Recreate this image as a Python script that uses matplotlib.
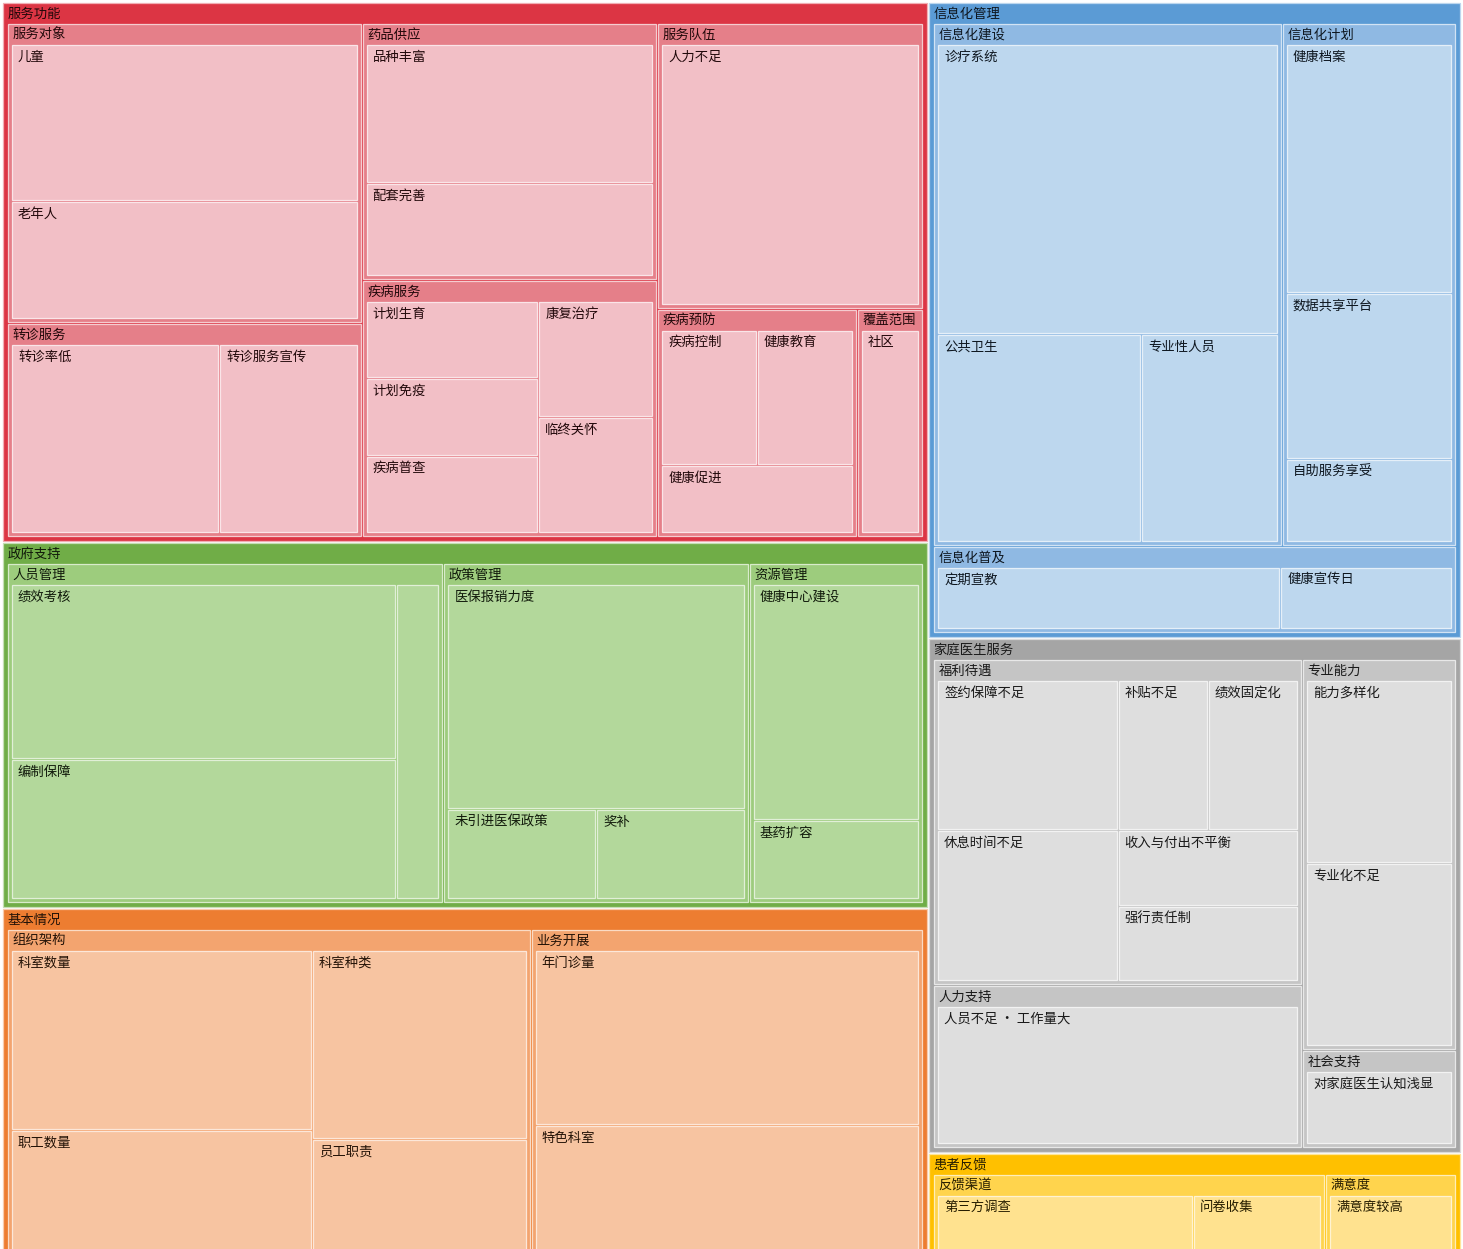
import matplotlib
matplotlib.use("Agg")
import matplotlib.pyplot as plt
from matplotlib.patches import Rectangle
from matplotlib.colors import to_rgb

plt.rcParams['font.family'] = ['Noto Sans CJK SC', 'DejaVu Sans']

# ---- data: top level groups, second level categories, leaves and counts ----
groups = ['服务功能', '政府支持', '基本情况', '信息化管理', '家庭医生服务', '患者反馈']

svc_cats = ['服务对象', '转诊服务', '药品供应', '疾病服务', '服务队伍', '疾病预防', '覆盖范围']
svc_leaves = [['儿童', '老年人'], ['转诊率低', '转诊服务宣传'], ['品种丰富', '配套完善'],
              ['计划生育', '计划免疫', '疾病普查', '康复治疗', '临终关怀'], ['人力不足'],
              ['疾病控制', '健康教育', '健康促进'], ['社区']]
svc_vals = [[4, 3], [3, 2], [3, 2], [1, 1, 1, 1, 1], [5], [1, 1, 1], [1]]

gov_cats = ['人员管理', '政策管理', '资源管理']
gov_leaves = [['绩效考核', '编制保障', '人才引进'], ['医保报销力度', '未引进医保政策', '奖补'],
              ['健康中心建设', '基药扩容']]
gov_vals = [[5, 4, 1], [5, 1, 1], [3, 1]]

base_cats = ['组织架构', '业务开展']
base_leaves = [['科室数量', '职工数量', '科室种类', '员工职责'], ['年门诊量', '特色科室']]
base_vals = [[4, 3, 3, 2], [5, 4]]

info_cats = ['信息化建设', '信息化计划', '信息化普及']
info_leaves = [['诊疗系统', '公共卫生', '专业性人员'], ['健康档案', '数据共享平台', '自助服务享受'],
               ['定期宣教', '健康宣传日']]
info_vals = [[7, 3, 2], [3, 2, 1], [2, 1]]

fam_cats = ['福利待遇', '人力支持', '专业能力', '社会支持']
fam_leaves = [['签约保障不足', '休息时间不足', '补贴不足', '绩效固定化', '收入与付出不平衡', '强行责任制'],
              ['人员不足 · 工作量大'], ['能力多样化', '专业化不足'], ['对家庭医生认知浅显']]
fam_vals = [[2, 2, 1, 1, 1, 1], [4], [2, 2], [1]]

pat_cats = ['反馈渠道', '满意度']
pat_leaves = [['第三方调查', '问卷收集'], ['满意度较高']]
pat_vals = [[2, 1], [1]]

group_data = [(svc_cats, svc_leaves, svc_vals), (gov_cats, gov_leaves, gov_vals),
              (base_cats, base_leaves, base_vals), (info_cats, info_leaves, info_vals),
              (fam_cats, fam_leaves, fam_vals), (pat_cats, pat_leaves, pat_vals)]

# ---- styles: (level 1 header, level 2 header, leaf) ----
palette = {
    '服务功能': ('#dc3544', '#e57f89', '#f2bfc6'),
    '政府支持': ('#70ad47', '#9dcc7d', '#b3d89b'),
    '基本情况': ('#ed7d31', '#f3a46f', '#f7c4a1'),
    '信息化管理': ('#5b9bd5', '#8fb9e3', '#bdd7ee'),
    '家庭医生服务': ('#a5a5a5', '#c5c5c5', '#dedede'),
    '患者反馈': ('#ffc000', '#ffd44d', '#ffe28f'),
}

PHI = (1 + 5 ** 0.5) / 2
HALF_GAP = 1.0
HEADER = 20
BORDER = {0: 4, 1: 3}


def mix(c, other, t):
    a, b = to_rgb(c), to_rgb(other)
    return tuple(a[i] * (1 - t) + b[i] * t for i in range(3))


def build_tree():
    roots = []
    for g, (cats, leaves, vals) in zip(groups, group_data):
        kids = []
        for c, ln, lv in zip(cats, leaves, vals):
            kids.append({'name': c, 'value': sum(lv), 'group': g,
                         'children': [{'name': n, 'value': v, 'group': g, 'children': []}
                                      for n, v in zip(ln, lv)]})
        roots.append({'name': g, 'value': sum(k['value'] for k in kids), 'group': g,
                      'children': kids})
    return roots


def worst(areas, side):
    s = sum(areas)
    f = side * side * PHI
    return max(f * max(areas) / (s * s), (s * s) / (f * min(areas)))


def squarify(nodes, x, y, w, h):
    # echarts style squarified layout (sorted desc, golden square ratio)
    nodes = sorted(nodes, key=lambda n: -n['value'])
    tot = sum(n['value'] for n in nodes)
    areas = [n['value'] / tot * w * h for n in nodes]
    rect = [x, y, w, h]
    out = []

    def place(row, flush):
        side = min(rect[2], rect[3])
        horiz = side == rect[2]
        thick = sum(areas[j] for j in row) / side
        other = rect[3] if horiz else rect[2]
        if flush or thick > other:
            thick = other
        pos = rect[0] if horiz else rect[1]
        end = pos + side
        for k, j in enumerate(row):
            step = areas[j] / thick
            remain = end - pos
            mod = remain if (k == len(row) - 1 or remain < step) else step
            if horiz:
                r = (pos + HALF_GAP, rect[1] + HALF_GAP, mod - 2 * HALF_GAP, thick - 2 * HALF_GAP)
            else:
                r = (rect[0] + HALF_GAP, pos + HALF_GAP, thick - 2 * HALF_GAP, mod - 2 * HALF_GAP)
            out.append((nodes[j], r))
            pos += mod
        if horiz:
            rect[1] += thick
            rect[3] -= thick
        else:
            rect[0] += thick
            rect[2] -= thick

    row, best, i = [], float('inf'), 0
    while i < len(nodes):
        row.append(i)
        score = worst([areas[j] for j in row], min(rect[2], rect[3]))
        if score <= best:
            best = score
            i += 1
        else:
            row.pop()
            place(row, False)
            row, best = [], float('inf')
    if row:
        place(row, True)
    return out


fig = plt.figure(figsize=(14.63, 12.49), dpi=100)
ax = fig.add_axes([0, 0, 1, 1])
ax.set_xlim(0, 1463)
ax.set_ylim(1249, 0)
ax.axis('off')
renderer = fig.canvas.get_renderer()


def label(x, y, text, maxw, color, va='center'):
    t = ax.text(x, y, text, fontsize=9.6, color=color, ha='left', va=va)
    wpx = t.get_window_extent(renderer).width
    if wpx > maxw:
        t.set_visible(False)


def draw(node, r, depth):
    x, y, w, h = r
    cols = palette[node['group']]
    fill = cols[min(depth, 2)] if node['children'] else cols[2]
    edge = mix(fill, '#ffffff', 0.6)
    ax.add_patch(Rectangle((x, y), w, h, facecolor=fill, edgecolor=edge,
                           linewidth=0.9, zorder=depth + 1))
    txt_col = mix(cols[0], '#000000', 0.85)
    if node['children']:
        label(x + 4.5, y + HEADER / 2 + 0.5, node['name'], w - 6, txt_col)
        b = BORDER[depth]
        for child, cr in squarify(node['children'], x + b, y + HEADER, w - 2 * b, h - HEADER - b):
            draw(child, cr, depth + 1)
    else:
        label(x + 6, y + 11.5, node['name'], w - 8, txt_col)


# root area is a little taller than the picture, as in the cropped original
for node, r in squarify(build_tree(), 2, 2, 1459, 1272):
    draw(node, r, 0)

fig.savefig('out.png', dpi=100, facecolor='white')
